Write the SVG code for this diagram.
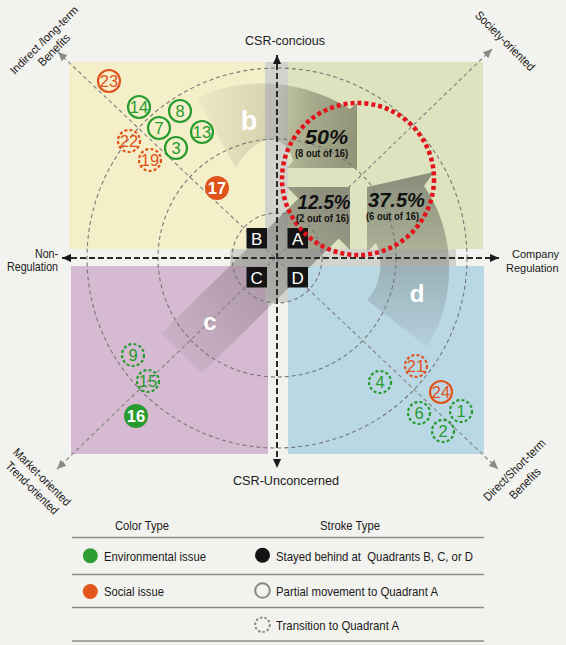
<svg xmlns="http://www.w3.org/2000/svg" width="566" height="645" viewBox="0 0 566 645">
<style>
text{font-family:"Liberation Sans",Arial,sans-serif;fill:#1a1a1a}
.lbl{font-size:13.5px}
.rlbl{font-size:11px}
.rot{font-size:12px;text-anchor:middle}
.circ{fill:none;stroke:#777;stroke-width:1.1;stroke-dasharray:4 3}
.diag{stroke:#888;stroke-width:1.2;stroke-dasharray:4 3;fill:none}
.axis{stroke:#2a2a2a;stroke-width:2;stroke-dasharray:6 3;fill:none}
.ring{fill:none;stroke-width:2.2}
.g{stroke:#279b2e}
.o{stroke:#e0531b}
.dash{stroke-dasharray:3 2.2}
.num{font-size:16.5px;text-anchor:middle}
.gt{fill:#279b2e}
.ot{fill:#e0531b}
.wt{fill:#fff;font-weight:bold}
.box{fill:#141414}
.boxt{fill:#fff;font-size:17px;text-anchor:middle}
.big{font-size:20px;font-weight:bold;font-style:italic;text-anchor:middle;fill:#111}
.sub{font-size:11px;font-weight:bold;text-anchor:middle;fill:#111}
.al{fill:#fff;font-weight:bold;text-anchor:middle}
.leg{font-size:13.5px}
.rule{stroke:#8a8a8a;stroke-width:1.5}
.strip{fill:#d3d3ce}
</style>
<defs>
<marker id="ahk" viewBox="0 0 10 10" refX="10" refY="5" markerWidth="10" markerHeight="9" markerUnits="userSpaceOnUse" orient="auto-start-reverse"><path d="M0,0.5 L10,5 L0,9.5 z" fill="#1a1a1a"/></marker>
<marker id="ahg" viewBox="0 0 10 10" refX="10" refY="5" markerWidth="11" markerHeight="9" markerUnits="userSpaceOnUse" orient="auto-start-reverse"><path d="M0,0.5 L10,5 L0,9.5 z" fill="#8a8a8a"/></marker>
<linearGradient id="gb" gradientUnits="userSpaceOnUse" x1="197" y1="120" x2="357" y2="135">
<stop offset="0" stop-color="#55553f" stop-opacity="0.04"/>
<stop offset="0.5" stop-color="#55553f" stop-opacity="0.2"/>
<stop offset="0.7" stop-color="#55553f" stop-opacity="0.4"/>
<stop offset="1" stop-color="#55553f" stop-opacity="0.56"/>
</linearGradient>
<linearGradient id="gc" gradientUnits="userSpaceOnUse" x1="181" y1="353" x2="330" y2="205">
<stop offset="0" stop-color="#4c4846" stop-opacity="0.08"/>
<stop offset="0.6" stop-color="#4c4846" stop-opacity="0.32"/>
<stop offset="1" stop-color="#4c4846" stop-opacity="0.54"/>
</linearGradient>
<linearGradient id="gd" gradientUnits="userSpaceOnUse" x1="0" y1="347" x2="0" y2="180">
<stop offset="0" stop-color="#4a4f48" stop-opacity="0.05"/>
<stop offset="0.45" stop-color="#4a4f48" stop-opacity="0.26"/>
<stop offset="1" stop-color="#4a4f48" stop-opacity="0.56"/>
</linearGradient>
</defs>

<rect width="566" height="645" fill="#f2f2ee"/>

<g id="quadrant-B"><rect x="69" y="62" width="196" height="187" fill="#f4efc9"/></g>
<g id="quadrant-A"><rect x="288" y="62" width="195" height="187" fill="#dde3bf"/></g>
<g id="quadrant-C"><rect x="71" y="266" width="197" height="188" fill="#d6bad2"/></g>
<g id="quadrant-D"><rect x="288" y="266" width="196" height="188" fill="#bad7e4"/></g>

<g id="center-cross">
<rect class="strip" x="265" y="62" width="23" height="240"/>
<rect class="strip" x="230" y="249" width="226" height="17"/>
</g>

<g id="connectors">
<path id="arrow-b" d="M197,98 C240,76 300,78 350,109 L357,103 L357,168 L287,168 L293,161 C288,135 258,128 236,168 Z" fill="url(#gb)"/>
<path id="arrow-c" d="M161.4,333.4 L298.4,198.4 L287,187 L350,187 L350,250 L338.6,238.6 L201.6,373.6 Z" fill="url(#gc)"/>
<path id="arrow-d" d="M367,300 L427,347 C452,310 462,240 424,186 L434,172 L367,187 L367,252 L376,243 C384,262 381,285 367,300 Z" fill="url(#gd)"/>

<circle class="circ" cx="277" cy="258" r="45"/>
<circle class="circ" cx="277" cy="258" r="119"/>
<circle class="circ" cx="277" cy="258" r="190"/>

<line class="diag" x1="58" y1="52" x2="498" y2="469" marker-start="url(#ahg)" marker-end="url(#ahg)"/>
<line class="diag" x1="492" y1="49" x2="57" y2="469" marker-start="url(#ahg)" marker-end="url(#ahg)"/>

<line class="axis" x1="277" y1="55" x2="277" y2="468" marker-start="url(#ahk)" marker-end="url(#ahk)"/>
<line class="axis" x1="62" y1="258" x2="499" y2="258" marker-start="url(#ahk)" marker-end="url(#ahk)"/>
</g>

<g id="label-B"><rect class="box" x="246.5" y="228" width="20.5" height="20.5"/><text class="boxt" x="256.7" y="244.5">B</text></g>
<g id="label-A"><rect class="box" x="287.5" y="228" width="20.5" height="20.5"/><text class="boxt" x="297.7" y="244.5">A</text></g>
<g id="label-C"><rect class="box" x="246.5" y="267" width="20.5" height="20.5"/><text class="boxt" x="256.7" y="283.5">C</text></g>
<g id="label-D"><rect class="box" x="287.5" y="267" width="20.5" height="20.5"/><text class="boxt" x="297.7" y="283.5">D</text></g>

<g id="highlight-A">
<circle cx="358" cy="179" r="76" fill="none" stroke="#e3121b" stroke-width="4.5" stroke-dasharray="4 3"/>
<text class="big" x="326.5" y="144" textLength="43" lengthAdjust="spacingAndGlyphs">50%</text>
<text class="sub" x="321.5" y="157" textLength="53" lengthAdjust="spacingAndGlyphs">(8 out of 16)</text>
<text class="big" x="324" y="209" textLength="53" lengthAdjust="spacingAndGlyphs">12.5%</text>
<text class="sub" x="322.5" y="222" textLength="53" lengthAdjust="spacingAndGlyphs">(2 out of 16)</text>
<text class="big" x="396.5" y="207" textLength="57" lengthAdjust="spacingAndGlyphs">37.5%</text>
<text class="sub" x="392.5" y="220" textLength="53" lengthAdjust="spacingAndGlyphs">(6 out of 16)</text>
</g>

<g id="arrow-labels">
<text class="al" x="249" y="130" font-size="27">b</text>
<text class="al" x="210" y="329.5" font-size="24">c</text>
<text class="al" x="417" y="302" font-size="24">d</text>
</g>

<g id="node-23"><circle class="ring o" cx="109" cy="81" r="11"/><text class="num ot" x="109" y="87">23</text></g>
<g id="node-14"><circle class="ring g" cx="139" cy="107" r="11"/><text class="num gt" x="139" y="113">14</text></g>
<g id="node-8"><circle class="ring g" cx="180" cy="111" r="11"/><text class="num gt" x="180" y="117">8</text></g>
<g id="node-7"><circle class="ring g" cx="159" cy="128" r="11"/><text class="num gt" x="159" y="134">7</text></g>
<g id="node-13"><circle class="ring g" cx="202" cy="132" r="11"/><text class="num gt" x="202" y="138">13</text></g>
<g id="node-22"><circle class="ring o dash" cx="129" cy="141" r="11"/><text class="num ot" x="129" y="147">22</text></g>
<g id="node-3"><circle class="ring g" cx="176" cy="148" r="11"/><text class="num gt" x="176" y="154">3</text></g>
<g id="node-19"><circle class="ring o dash" cx="150" cy="160" r="11"/><text class="num ot" x="150" y="166">19</text></g>
<g id="node-17"><circle cx="217" cy="188" r="12" fill="#e0531b"/><text class="num wt" x="217" y="194">17</text></g>
<g id="node-9"><circle class="ring g dash" cx="133" cy="355" r="11"/><text class="num gt" x="133" y="361">9</text></g>
<g id="node-15"><circle class="ring g dash" cx="148" cy="381" r="11"/><text class="num gt" x="148" y="387">15</text></g>
<g id="node-16"><circle cx="136" cy="416" r="12" fill="#279b2e"/><text class="num wt" x="136" y="422">16</text></g>
<g id="node-21"><circle class="ring o dash" cx="416" cy="366" r="11"/><text class="num ot" x="416" y="372">21</text></g>
<g id="node-4"><circle class="ring g dash" cx="380" cy="382" r="11"/><text class="num gt" x="380" y="388">4</text></g>
<g id="node-24"><circle class="ring o" cx="441" cy="392" r="11"/><text class="num ot" x="441" y="398">24</text></g>
<g id="node-6"><circle class="ring g dash" cx="419" cy="413" r="11"/><text class="num gt" x="419" y="419">6</text></g>
<g id="node-1"><circle class="ring g dash" cx="461" cy="411" r="11"/><text class="num gt" x="461" y="417">1</text></g>
<g id="node-2"><circle class="ring g dash" cx="443" cy="431" r="11"/><text class="num gt" x="443" y="437">2</text></g>

<g id="axis-labels">
<text class="lbl" x="285" y="45" text-anchor="middle" textLength="80" lengthAdjust="spacingAndGlyphs">CSR-concious</text>
<text class="lbl" x="286" y="485" text-anchor="middle" textLength="106" lengthAdjust="spacingAndGlyphs">CSR-Unconcerned</text>
<text class="lbl" x="35" y="257.5" textLength="23" lengthAdjust="spacingAndGlyphs">Non-</text>
<text class="lbl" x="7" y="271" textLength="51" lengthAdjust="spacingAndGlyphs">Regulation</text>
<text class="rlbl" x="512" y="258">Company</text>
<text class="rlbl" x="506" y="271.5">Regulation</text>
<g transform="translate(44,40) rotate(-45)"><text class="rot" x="0" y="4" style="font-size:11.3px">Indirect /long-term</text></g>
<g transform="translate(54,50) rotate(-45)"><text class="rot" x="0" y="4" textLength="40" lengthAdjust="spacingAndGlyphs">Benefits</text></g>
<g transform="translate(505,41) rotate(45)"><text class="rot" x="0" y="4" textLength="79" lengthAdjust="spacingAndGlyphs">Society-oriented</text></g>
<g transform="translate(42,477) rotate(45)"><text class="rot" x="0" y="4" textLength="76" lengthAdjust="spacingAndGlyphs">Market-oriented</text></g>
<g transform="translate(32,488) rotate(45)"><text class="rot" x="0" y="4" textLength="69" lengthAdjust="spacingAndGlyphs">Trend-oriented</text></g>
<g transform="translate(514.5,470) rotate(-45)"><text class="rot" x="0" y="4" textLength="82" lengthAdjust="spacingAndGlyphs">Direct/Short-term</text></g>
<g transform="translate(525,483.5) rotate(-45)"><text class="rot" x="0" y="4" textLength="39" lengthAdjust="spacingAndGlyphs">Benefits</text></g>
</g>

<g id="legend">
<text class="leg" x="142" y="530" text-anchor="middle" textLength="54" lengthAdjust="spacingAndGlyphs">Color Type</text>
<text class="leg" x="350" y="530" text-anchor="middle" textLength="60" lengthAdjust="spacingAndGlyphs">Stroke Type</text>
<line class="rule" x1="72" y1="537.5" x2="484" y2="537.5"/>
<line class="rule" x1="72" y1="574.5" x2="484" y2="574.5"/>
<line class="rule" x1="72" y1="607.5" x2="484" y2="607.5"/>
<line class="rule" x1="72" y1="641" x2="484" y2="641"/>
<circle cx="90.3" cy="555.7" r="7.5" fill="#2e9e34"/>
<text class="leg" x="104" y="560.5" textLength="102" lengthAdjust="spacingAndGlyphs">Environmental issue</text>
<circle cx="90.3" cy="591.5" r="7.5" fill="#e2561d"/>
<text class="leg" x="104" y="595.5" textLength="60" lengthAdjust="spacingAndGlyphs">Social issue</text>
<circle cx="262.5" cy="555.3" r="7.5" fill="#141414"/>
<text class="leg" x="276" y="560.5" textLength="197" lengthAdjust="spacingAndGlyphs" style="white-space:pre">Stayed behind at  Quadrants B, C, or D</text>
<circle cx="262.5" cy="590.5" r="7.3" fill="none" stroke="#8a8a8a" stroke-width="2"/>
<text class="leg" x="276" y="595.5" textLength="162" lengthAdjust="spacingAndGlyphs">Partial movement to Quadrant A</text>
<circle cx="262.5" cy="624.7" r="7.3" fill="none" stroke="#8a8a8a" stroke-width="2" stroke-dasharray="2.5 2"/>
<text class="leg" x="276" y="629.5" textLength="123" lengthAdjust="spacingAndGlyphs">Transition to Quadrant A</text>
</g>
</svg>
